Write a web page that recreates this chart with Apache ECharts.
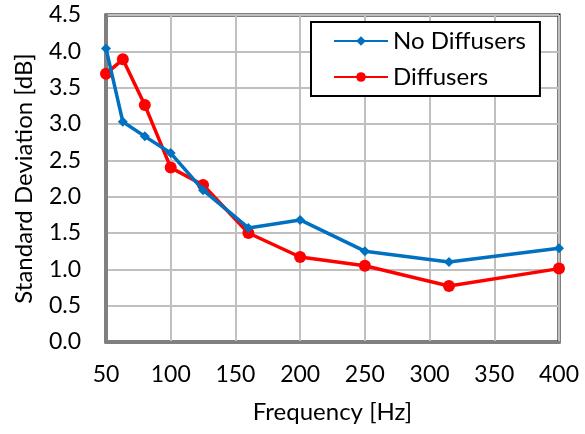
<!DOCTYPE html>
<html>
<head>
<meta charset="utf-8">
<script src="https://cdn.jsdelivr.net/npm/echarts@6/dist/echarts.min.js"></script>
<style>
  html, body { margin: 0; padding: 0; background: #fff; }
  #chart { width: 585px; height: 434px; }
</style>
</head>
<body>
<div id="chart"></div>
<script>
// frequencies [Hz]
const freqs = [50, 63, 80, 100, 125, 160, 200, 250, 315, 400];
const noDiffusers = [4.04, 3.03, 2.83, 2.60, 2.09, 1.57, 1.68, 1.25, 1.10, 1.29];
const diffusers = [3.69, 3.89, 3.26, 2.40, 2.16, 1.50, 1.17, 1.05, 0.77, 1.01];

const FONT = 'Lato';
const chartDom = document.getElementById('chart');
const myChart = echarts.init(chartDom);

const option = {
    animation: false,
    textStyle: { fontFamily: FONT },
    grid: {
        left: 106, top: 15, right: 26, bottom: 92,
        show: true,
        borderColor: '#000',
        borderWidth: 3
    },
    legend: {
        orient: 'vertical',
        left: 311,
        top: 22,
        backgroundColor: '#fff',
        borderColor: '#000',
        borderWidth: 2,
        padding: [6, 14, 6, 22],
        itemWidth: 54,
        itemHeight: 12,
        itemGap: 10,
        textStyle: { fontSize: 24, color: '#000', fontFamily: FONT, lineHeight: 26 },
        data: ['No Diffusers', 'Diffusers']
    },
    xAxis: {
        type: 'value',
        min: 50,
        max: 400,
        interval: 50,
        name: 'Frequency [Hz]',
        nameLocation: 'middle',
        nameGap: 58,
        nameTextStyle: { fontSize: 24, color: '#000' },
        axisLine: { show: true, lineStyle: { color: '#808080', width: 3 } },
        axisTick: { show: false },
        axisLabel: { fontSize: 23, color: '#000', margin: 21 },
        splitLine: { show: true, lineStyle: { color: '#c0c0c0', width: 2 } }
    },
    yAxis: {
        type: 'value',
        min: 0,
        max: 4.5,
        interval: 0.5,
        name: 'Standard Deviation [dB]',
        nameLocation: 'middle',
        nameGap: 70,
        nameTextStyle: { fontSize: 24, color: '#000' },
        axisLine: { show: true, lineStyle: { color: '#808080', width: 3 } },
        axisTick: { show: false },
        axisLabel: {
            fontSize: 23, color: '#000', margin: 25,
            formatter: v => v.toFixed(1)
        },
        splitLine: { show: true, lineStyle: { color: '#c0c0c0', width: 2 } }
    },
    series: [{
        name: 'No Diffusers',
        type: 'line',
        data: freqs.map((f, i) => [f, noDiffusers[i]]),
        symbol: 'diamond',
        symbolSize: 10,
        lineStyle: { color: '#0070C0', width: 3.5 },
        itemStyle: { color: '#0070C0' },
        z: 3
    }, {
        name: 'Diffusers',
        type: 'line',
        data: freqs.map((f, i) => [f, diffusers[i]]),
        symbol: 'circle',
        symbolSize: 12,
        lineStyle: { color: '#FF0000', width: 3.5 },
        itemStyle: { color: '#FF0000' },
        z: 2
    }]
};

myChart.setOption(option);
window.addEventListener('resize', () => myChart.resize());
</script>
</body>
</html>
